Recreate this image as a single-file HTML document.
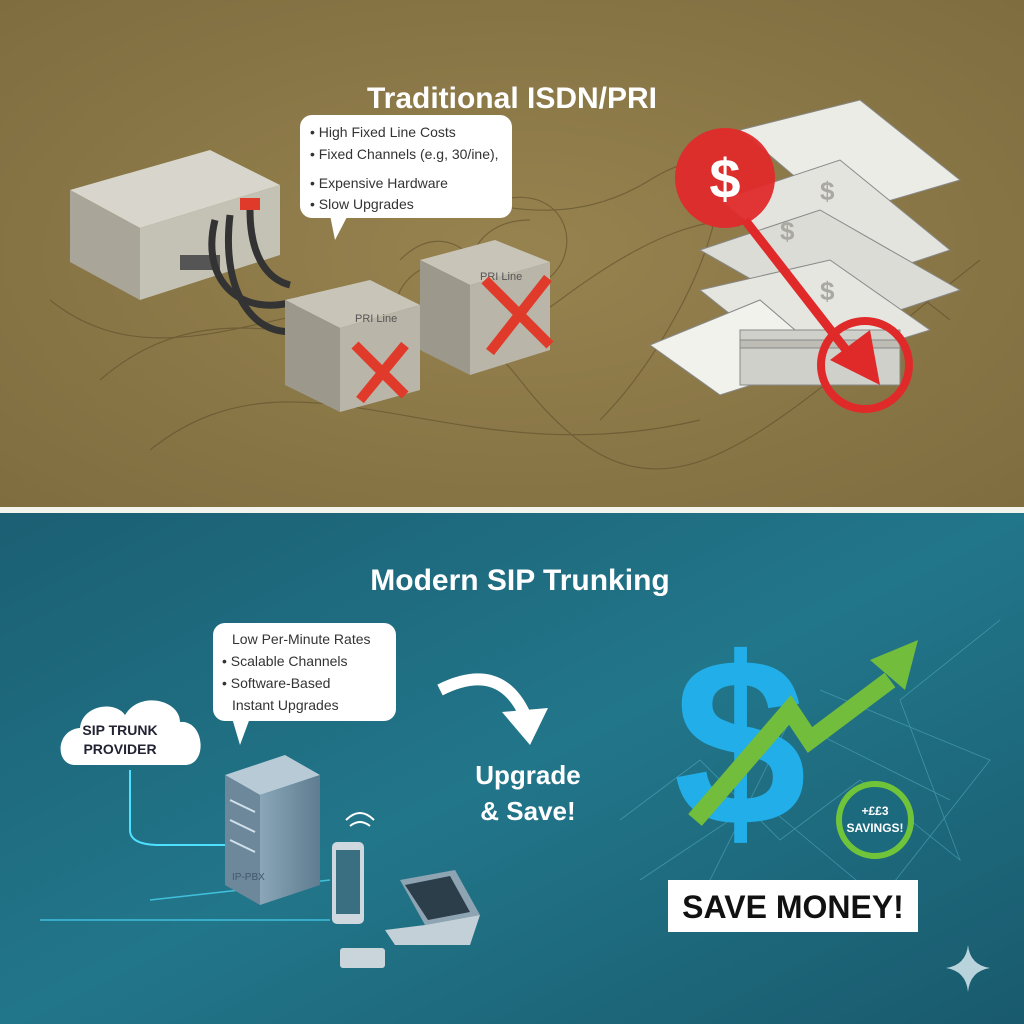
<!DOCTYPE html>
<html><head><meta charset="utf-8"><style>
body{margin:0;width:1024px;height:1024px;overflow:hidden;font-family:"Liberation Sans",sans-serif}
</style></head><body>
<svg width="1024" height="1024" viewBox="0 0 1024 1024" xmlns="http://www.w3.org/2000/svg">
<defs>
<radialGradient id="tg" cx="50%" cy="50%" r="70%"><stop offset="0" stop-color="#97834f"/><stop offset="1" stop-color="#7f6d40"/></radialGradient>
<linearGradient id="bg" x1="0" y1="0" x2="1" y2="1"><stop offset="0" stop-color="#1b5f73"/><stop offset="0.5" stop-color="#22768a"/><stop offset="1" stop-color="#195a6d"/></linearGradient>
<linearGradient id="srv" x1="0" y1="0" x2="1" y2="0"><stop offset="0" stop-color="#8aa6b8"/><stop offset="1" stop-color="#5f7c90"/></linearGradient>
</defs>
<rect x="0" y="0" width="1024" height="507" fill="url(#tg)"/>
<rect x="0" y="507" width="1024" height="6" fill="#f4f4ee"/>
<rect x="0" y="513" width="1024" height="511" fill="url(#bg)"/>
<g fill="none" stroke="#5e4e2c" stroke-width="1.2" opacity="0.6">
<path d="M100 380 C250 250 400 420 560 300 S800 200 950 320"/>
<path d="M50 300 C200 420 380 200 520 380 S750 440 980 260"/>
<path d="M300 200 C420 150 520 260 650 180 S700 320 600 420"/>
<path d="M150 450 C300 330 450 480 700 420"/>
<path d="M400 260 c60 -60 120 40 60 80 s-90 -40 -40 -70"/>
<path d="M500 200 c80 -20 90 80 20 90 s-60 -70 10 -70"/>
</g>
<text x="512" y="108" text-anchor="middle" font-size="30" font-weight="bold" fill="#fff">Traditional ISDN/PRI</text>
<polygon points="70,190 210,150 280,185 140,228" fill="#d8d6cc"/>
<polygon points="70,190 140,228 140,300 70,262" fill="#a9a598"/>
<polygon points="140,228 280,185 280,255 140,300" fill="#c4c1b5"/>
<rect x="180" y="255" width="40" height="15" fill="#555"/>
<rect x="240" y="198" width="20" height="12" fill="#e03a2a"/>
<g fill="none" stroke="#333" stroke-width="7"><path d="M215 220 C200 280 240 320 300 300"/><path d="M230 215 C220 300 260 340 300 330"/><path d="M250 210 C250 260 270 280 290 285"/></g>
<polygon points="285,300 370,280 420,305 340,328" fill="#c8c4b8"/>
<polygon points="285,300 340,328 340,412 285,385" fill="#9c988c"/>
<polygon points="340,328 420,305 420,390 340,412" fill="#b9b5a8"/>
<text x="355" y="322" font-size="11" fill="#555">PRI Line</text>
<path d="M355 345 L405 395 M405 345 L360 400" stroke="#e03a2a" stroke-width="10"/>
<polygon points="420,260 495,240 550,262 470,285" fill="#c8c4b8"/>
<polygon points="420,260 470,285 470,375 420,350" fill="#9c988c"/>
<polygon points="470,285 550,262 550,350 470,375" fill="#b9b5a8"/>
<text x="480" y="280" font-size="11" fill="#555">PRI Line</text>
<path d="M485 280 L550 345 M548 278 L490 352" stroke="#e03a2a" stroke-width="10"/>
<rect x="300" y="115" width="212" height="103" rx="12" fill="#fff"/>
<polygon points="330,215 348,215 335,240" fill="#fff"/>
<g font-size="14" fill="#333"><text x="310" y="137">• High Fixed Line Costs</text><text x="310" y="159">• Fixed Channels (e.g, 30/ine),</text><text x="310" y="188">• Expensive Hardware</text><text x="310" y="209">• Slow Upgrades</text></g>
<g stroke="#888" stroke-width="1">
<polygon points="740,130 860,100 960,180 840,215" fill="#ecece6"/>
<polygon points="720,200 840,160 950,250 830,290" fill="#e4e4de"/>
<polygon points="700,250 820,210 960,290 840,330" fill="#dcdcd6"/>
<polygon points="700,290 830,260 930,330 800,370" fill="#e6e6e0"/>
<polygon points="650,345 760,300 830,360 720,395" fill="#f2f2ed"/>
<rect x="740" y="330" width="160" height="55" fill="#d0d0ca"/>
<rect x="740" y="340" width="160" height="8" fill="#bdbdb6"/>
</g>
<g fill="#a9a9a2" font-size="26" font-weight="bold"><text x="820" y="200">$</text><text x="780" y="240">$</text><text x="820" y="300">$</text></g>
<circle cx="725" cy="178" r="50" fill="#e02a2a" opacity="0.95"/>
<text x="725" y="198" text-anchor="middle" font-size="56" font-weight="bold" fill="#fff">$</text>
<path d="M745 220 L850 355" stroke="#e02a2a" stroke-width="9"/>
<polygon points="830,360 880,385 870,330" fill="#e02a2a"/>
<circle cx="865" cy="365" r="44" fill="none" stroke="#e02a2a" stroke-width="8"/>
<g fill="none" stroke="#6fd0e6" stroke-width="0.8" opacity="0.4">
<path d="M620 820 L700 760 L780 840 L860 780 L960 860 L900 700 L1000 620"/>
<path d="M640 880 L760 800 L880 900 L990 760 L820 690"/>
<path d="M700 900 L790 720 L950 800"/>
</g>
<text x="520" y="590" text-anchor="middle" font-size="30" font-weight="bold" fill="#fff">Modern SIP Trunking</text>
<rect x="213" y="623" width="183" height="98" rx="12" fill="#fff"/>
<polygon points="232,718 250,718 240,745" fill="#fff"/>
<g font-size="14" fill="#333"><text x="232" y="644">Low Per-Minute Rates</text><text x="222" y="666">• Scalable Channels</text><text x="222" y="688">• Software-Based</text><text x="232" y="710">Instant Upgrades</text></g>
<path d="M75 765 C55 765 55 730 80 728 C82 705 115 700 125 715 C140 690 180 700 180 722 C205 720 208 765 185 765 Z" fill="#fff"/>
<text x="120" y="735" text-anchor="middle" font-size="14" font-weight="bold" fill="#223">SIP TRUNK</text>
<text x="120" y="754" text-anchor="middle" font-size="14" font-weight="bold" fill="#223">PROVIDER</text>
<path d="M130 770 L130 830 Q130 845 160 845 L225 845" stroke="#4fe0ff" stroke-width="2" fill="none"/>
<path d="M40 920 L330 920 M150 900 L330 880" stroke="#4fe0ff" stroke-width="1.5" opacity="0.7"/>
<polygon points="225,775 285,755 320,775 260,795" fill="#b8cad6"/>
<polygon points="225,775 260,795 260,905 225,885" fill="#6d889b"/>
<polygon points="260,795 320,775 320,885 260,905" fill="url(#srv)"/>
<g stroke="#cfe0ea" stroke-width="2"><line x1="230" y1="800" x2="255" y2="812"/><line x1="230" y1="820" x2="255" y2="832"/><line x1="230" y1="840" x2="255" y2="852"/></g>
<text x="232" y="880" font-size="10" fill="#44576a">IP-PBX</text>
<rect x="332" y="842" width="32" height="82" rx="5" fill="#cfd8de"/>
<rect x="336" y="850" width="24" height="64" fill="#3a6f82"/>
<path d="M350 826 q10 -8 20 0 M346 820 q14 -14 28 0" stroke="#fff" stroke-width="2" fill="none"/>
<polygon points="400,880 455,870 480,915 425,925" fill="#8ea4b2"/>
<polygon points="405,885 450,876 470,912 428,920" fill="#2c3e4a"/>
<polygon points="385,930 425,925 480,915 470,945 395,945" fill="#c4d0d8"/>
<rect x="340" y="948" width="45" height="20" rx="3" fill="#c9d4db"/>
<path d="M440 690 Q500 660 525 715" stroke="#fff" stroke-width="12" fill="none"/>
<polygon points="502,712 548,708 530,745" fill="#fff"/>
<text x="528" y="784" text-anchor="middle" font-size="26" font-weight="bold" fill="#fff">Upgrade</text>
<text x="528" y="820" text-anchor="middle" font-size="26" font-weight="bold" fill="#fff">&amp; Save!</text>
<text x="740" y="825" text-anchor="middle" font-size="240" font-weight="bold" fill="#22aee8">$</text>
<path d="M695 820 L790 710 L810 740 L890 680" stroke="#72bd3b" stroke-width="18" fill="none"/>
<polygon points="870,660 918,640 905,690" fill="#72bd3b"/>
<circle cx="875" cy="820" r="36" fill="#1c6a7d" stroke="#6fc43a" stroke-width="6"/>
<text x="875" y="815" text-anchor="middle" font-size="12" font-weight="bold" fill="#fff">+££3</text>
<text x="875" y="832" text-anchor="middle" font-size="12" font-weight="bold" fill="#fff">SAVINGS!</text>
<rect x="668" y="880" width="250" height="52" fill="#fff"/>
<text x="793" y="918" text-anchor="middle" font-size="32" font-weight="bold" fill="#111">SAVE MONEY!</text>
<path d="M968 945 Q970 965 990 968 Q970 971 968 992 Q966 971 946 968 Q966 965 968 945Z" fill="#b9d3dc"/>
</svg>
</body></html>
